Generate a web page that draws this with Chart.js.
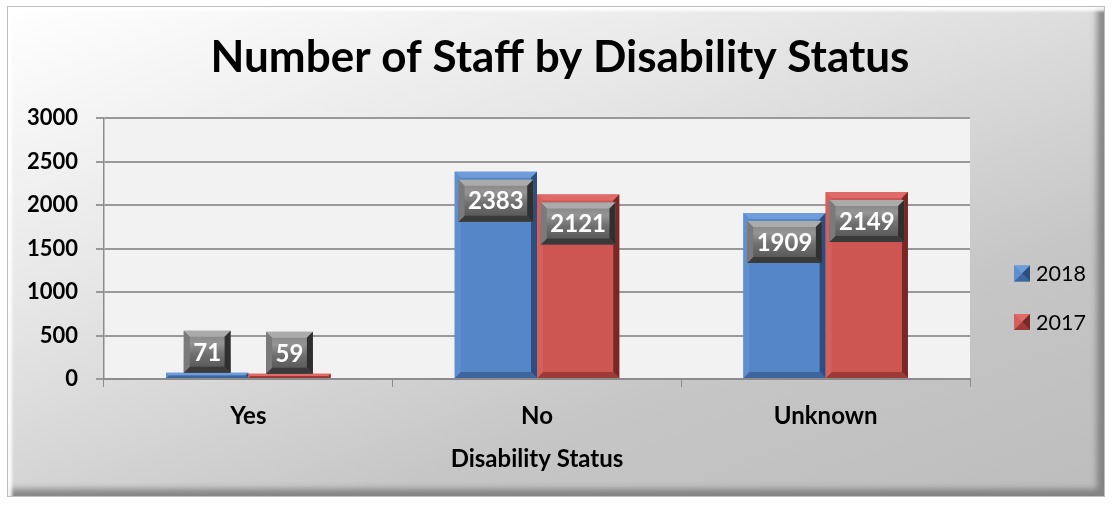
<!DOCTYPE html>
<html>
<head>
<meta charset="utf-8">
<script src="https://cdn.jsdelivr.net/npm/chart.js@4.4.1/dist/chart.umd.min.js"></script>
<style>
  html, body { margin: 0; padding: 0; background: #fff; }
  #frame {
    position: absolute; left: 7px; top: 6px; width: 1098px; height: 491px;
    background: linear-gradient(160deg, #ffffff 0%, #e6e6e6 35%, #c6c6c6 70%, #bdbdbd 100%);
    box-shadow: inset 4px 4px 3px rgba(255,255,255,0.9), inset -7px -7px 6px rgba(110,110,110,0.75);
    border: 1px solid #bdbdbd;
    box-sizing: border-box;
  }
  #frame canvas { position: absolute; left: 0; top: 0; }
</style>
</head>
<body>
<div id="frame"><canvas id="barChart"></canvas></div>
<script>
const categories = ['Yes', 'No', 'Unknown'];
const staff2018 = [71, 2383, 1909];
const staff2017 = [59, 2121, 2149];
const seriesNames = ['2018', '2017'];
const yTicks = [0, 500, 1000, 1500, 2000, 2500, 3000];
const chartTitle = 'Number of Staff by Disability Status';

const FONT = 'Lato, "Open Sans", sans-serif';

// light grey plot background
const plotBg = {
    id: 'plotBg',
    beforeDraw(chart) {
        const a = chart.chartArea, ctx = chart.ctx;
        ctx.save();
        ctx.fillStyle = '#f2f2f2';
        ctx.fillRect(a.left, a.top, a.right - a.left, a.bottom - a.top);
        ctx.restore();
    }
};

// title centred across the whole frame
const frameTitle = {
    id: 'frameTitle',
    afterDraw(chart) {
        const ctx = chart.ctx;
        ctx.save();
        ctx.font = 'bold 44px ' + FONT;
        ctx.fillStyle = '#000';
        ctx.textAlign = 'center';
        ctx.textBaseline = 'middle';
        ctx.fillText(chartTitle, chart.width / 2 + 4, 51);
        ctx.restore();
    }
};

function bevelRect(ctx, x, y, w, h, b, cols) {
    // cols: [top, right, bottom, left]
    const quads = [
        [[x, y], [x + w, y], [x + w - b, y + b], [x + b, y + b]],
        [[x + w, y], [x + w, y + h], [x + w - b, y + h - b], [x + w - b, y + b]],
        [[x, y + h], [x + w, y + h], [x + w - b, y + h - b], [x + b, y + h - b]],
        [[x, y], [x, y + h], [x + b, y + h - b], [x + b, y + b]]
    ];
    quads.forEach((q, i) => {
        ctx.beginPath();
        ctx.moveTo(q[0][0], q[0][1]);
        for (let k = 1; k < 4; k++) ctx.lineTo(q[k][0], q[k][1]);
        ctx.closePath();
        ctx.fillStyle = cols[i];
        ctx.fill();
    });
}

const bevels = [
    ['#6f9ddb', '#2c4f80', '#3d659e', '#5f8fcf'],
    ['#e06a67', '#7a2826', '#9c3a38', '#d2605d']
];

// bevelled edges on the bars
const barBevel = {
    id: 'barBevel',
    afterDatasetsDraw(chart) {
        const ctx = chart.ctx;
        chart.data.datasets.forEach((ds, di) => {
            chart.getDatasetMeta(di).data.forEach(bar => {
                const p = bar.getProps(['x', 'y', 'base', 'width'], true);
                const x = p.x - p.width / 2, y = p.y, w = p.width, h = p.base - p.y;
                const b = Math.min(6, h / 2);
                ctx.save();
                bevelRect(ctx, x, y, w, h, b, bevels[di]);
                ctx.restore();
            });
        });
    }
};

// grey bevelled value boxes
const valueBoxes = {
    id: 'valueBoxes',
    afterDatasetsDraw(chart) {
        const ctx = chart.ctx;
        ctx.save();
        ctx.font = 'bold 24px ' + FONT;
        chart.data.datasets.forEach((ds, di) => {
            chart.getDatasetMeta(di).data.forEach((bar, i) => {
                const p = bar.getProps(['x', 'y', 'base'], true);
                const txt = String(ds.data[i]);
                const w = ctx.measureText(txt).width + 19, h = 42;
                let cy = p.y + 29;
                if (p.base - p.y < h + 8) cy = p.y - h / 2;
                const x = p.x - w / 2, y = cy - h / 2;
                const g = ctx.createLinearGradient(0, y, 0, y + h);
                g.addColorStop(0, '#808080');
                g.addColorStop(0.3, '#959595');
                g.addColorStop(0.55, '#707070');
                g.addColorStop(1, '#505050');
                ctx.fillStyle = g;
                ctx.fillRect(x, y, w, h);
                bevelRect(ctx, x, y, w, h, 6, ['#ababab', '#2f2f2f', '#3a3a3a', '#7a7a7a']);
                ctx.fillStyle = '#ffffff';
                ctx.textAlign = 'center';
                ctx.textBaseline = 'middle';
                ctx.fillText(txt, p.x, cy + 1);
            });
        });
        ctx.restore();
    }
};

// legend on the right with pyramid markers
const sideLegend = {
    id: 'sideLegend',
    afterDraw(chart) {
        const ctx = chart.ctx;
        const rows = [266.5, 315];
        ctx.save();
        chart.data.datasets.forEach((ds, di) => {
            const x = 1006, y = rows[di] - 8, s = 16;
            ctx.fillStyle = ds.backgroundColor;
            ctx.fillRect(x, y, s, s);
            bevelRect(ctx, x, y, s, s, s / 2, bevels[di]);
            ctx.fillStyle = '#000';
            ctx.font = '21.5px ' + FONT;
            ctx.textAlign = 'left';
            ctx.textBaseline = 'middle';
            ctx.fillText(ds.label, 1028, rows[di] + 1);
        });
        ctx.restore();
    }
};

new Chart(document.getElementById('barChart'), {
    type: 'bar',
    data: {
        labels: categories,
        datasets: [
            { label: seriesNames[0], data: staff2018, backgroundColor: '#5586c8' },
            { label: seriesNames[1], data: staff2017, backgroundColor: '#cd5552' }
        ]
    },
    options: {
        responsive: true,
        maintainAspectRatio: false,
        animation: false,
        categoryPercentage: 0.57,
        barPercentage: 1,
        layout: { padding: { top: 111, left: 0, right: 134, bottom: 0 } },
        plugins: {
            legend: { display: false },
            tooltip: { enabled: false },
            title: { display: false }
        },
        scales: {
            x: {
                afterFit(scale) { scale.height = 117; },
                grid: { drawOnChartArea: false, tickLength: 8, color: '#8c8c8c', lineWidth: 1 },
                border: { color: '#8c8c8c', width: 2 },
                ticks: { color: '#000', padding: 15, font: { family: FONT, size: 24, weight: 'bold' } },
                title: {
                    display: true,
                    text: 'Disability Status',
                    color: '#000',
                    font: { family: FONT, size: 24, weight: 'bold' },
                    padding: { top: 0, bottom: 22 }
                }
            },
            y: {
                min: 0,
                max: 3000,
                afterFit(scale) { scale.width = 96; },
                afterBuildTicks(scale) { scale.ticks = yTicks.map(v => ({ value: v })); },
                grid: { color: '#999999', lineWidth: 2, tickLength: 8 },
                border: { color: '#8c8c8c', width: 1.5 },
                ticks: {
                    color: '#000', padding: 18,
                    font: { family: FONT, size: 22, weight: 'bold' },
                    callback: v => String(v)
                }
            }
        }
    },
    plugins: [plotBg, barBevel, valueBoxes, sideLegend, frameTitle]
});
</script>
</body>
</html>
